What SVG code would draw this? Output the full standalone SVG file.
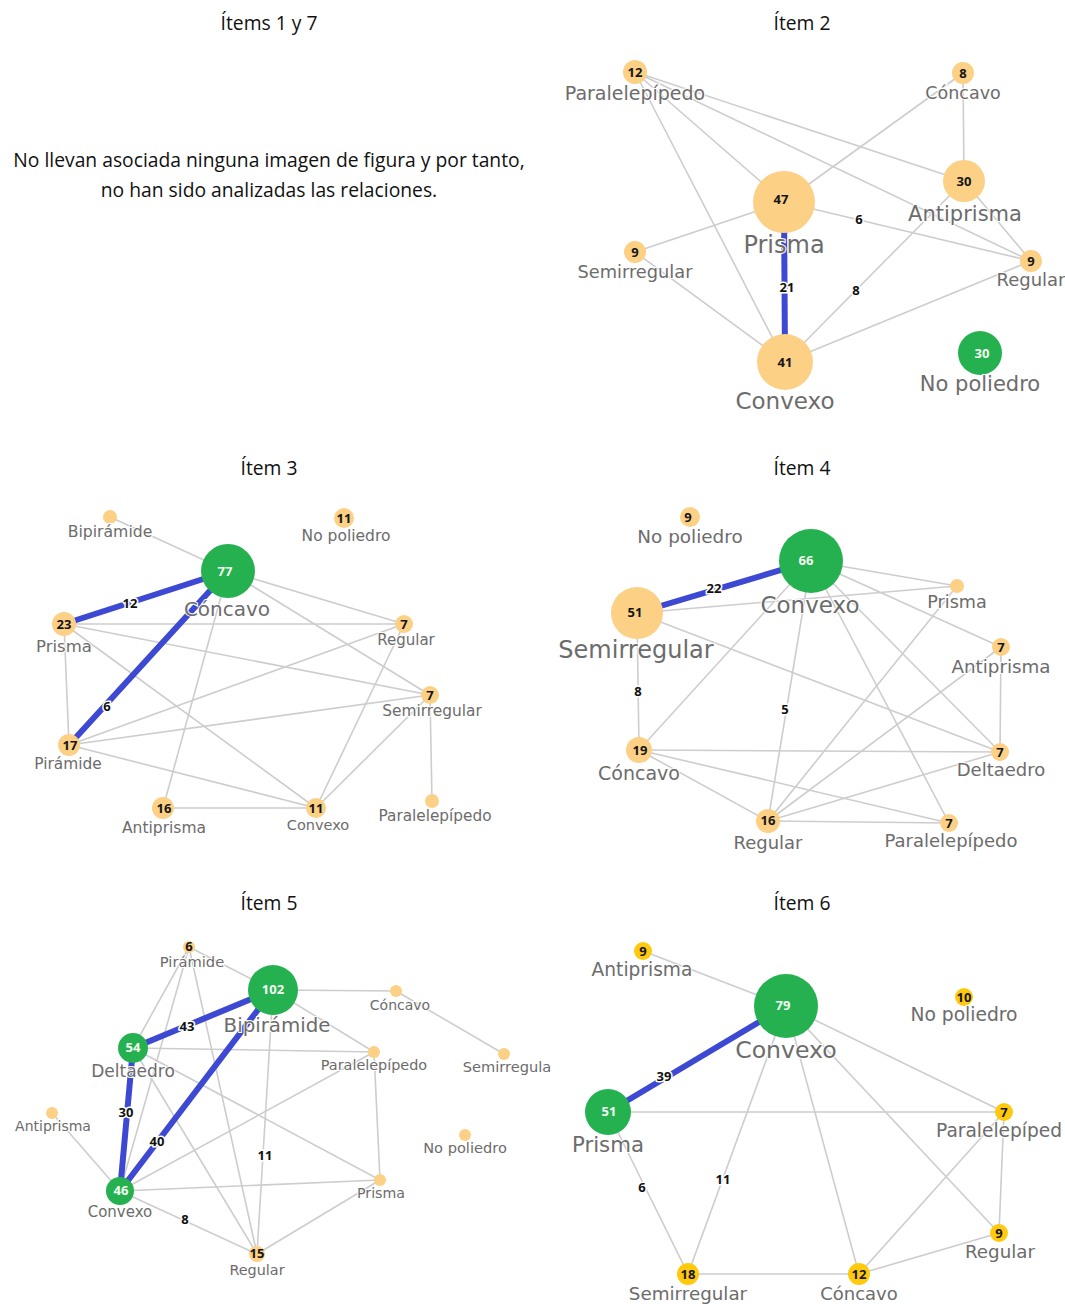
<svg xmlns="http://www.w3.org/2000/svg" width="1065" height="1304" viewBox="0 0 1065 1304">
<style>
.e{stroke:#cdcdcd;stroke-width:1.6;fill:none}
.b{stroke:#3d49d3;stroke-width:6;stroke-linecap:round;fill:none}
.o{fill:#fcd085}
.g{fill:#25b150}
.y{fill:#ffc90e}
.n{font-family:"Open Sans","DejaVu Sans",sans-serif;font-weight:700;font-size:13px;text-anchor:middle;fill:#151515}
.nw{fill:#f4fff4}
.l{font-family:"DejaVu Sans",sans-serif;fill:#6c6c6c;text-anchor:middle;stroke:#fff;stroke-width:2;paint-order:stroke}
.ls{text-anchor:start}
.w{font-family:"Open Sans","DejaVu Sans",sans-serif;font-weight:700;font-size:13px;fill:#111;text-anchor:middle;stroke:#fff;stroke-width:3;paint-order:stroke}
.t{font-family:"Open Sans","Liberation Sans",sans-serif;font-size:19.3px;fill:#111;text-anchor:middle}
</style>
<rect width="1065" height="1304" fill="#fff"/>
<g id="titles">
<text class="t" x="269" y="30">Ítems 1 y 7</text>
<text class="t" x="802" y="30">Ítem 2</text>
<text class="t" x="269" y="475">Ítem 3</text>
<text class="t" x="802" y="475">Ítem 4</text>
<text class="t" x="269" y="910">Ítem 5</text>
<text class="t" x="802" y="910">Ítem 6</text>
<text class="t" x="269" y="167">No llevan asociada ninguna imagen de figura y por tanto,</text>
<text class="t" x="269" y="197">no han sido analizadas las relaciones.</text>
</g>
<g id="connectors">
<!-- Item 2 -->
<line class="e" x1="635" y1="72" x2="784" y2="202"/>
<line class="e" x1="635" y1="72" x2="964" y2="181"/>
<line class="e" x1="635" y1="72" x2="1031" y2="261"/>
<line class="e" x1="635" y1="72" x2="785" y2="362"/>
<line class="e" x1="963" y1="73" x2="784" y2="202"/>
<line class="e" x1="963" y1="73" x2="964" y2="181"/>
<line class="e" x1="784" y1="202" x2="1031" y2="261"/>
<line class="e" x1="784" y1="202" x2="635" y2="252"/>
<line class="e" x1="964" y1="181" x2="785" y2="362"/>
<line class="e" x1="964" y1="181" x2="1031" y2="261"/>
<line class="e" x1="635" y1="252" x2="785" y2="362"/>
<line class="e" x1="785" y1="362" x2="1031" y2="261"/>
<line class="b" x1="784" y1="202" x2="785" y2="362"/>
<!-- Item 3 -->
<line class="e" x1="110" y1="517" x2="228" y2="571"/>
<line class="e" x1="228" y1="571" x2="404" y2="624"/>
<line class="e" x1="228" y1="571" x2="430" y2="695"/>
<line class="e" x1="228" y1="571" x2="163" y2="808"/>
<line class="e" x1="64" y1="624" x2="404" y2="624"/>
<line class="e" x1="64" y1="624" x2="430" y2="695"/>
<line class="e" x1="64" y1="624" x2="316" y2="808"/>
<line class="e" x1="64" y1="624" x2="69" y2="745"/>
<line class="e" x1="69" y1="745" x2="404" y2="624"/>
<line class="e" x1="69" y1="745" x2="430" y2="695"/>
<line class="e" x1="69" y1="745" x2="316" y2="808"/>
<line class="e" x1="163" y1="808" x2="316" y2="808"/>
<line class="e" x1="404" y1="624" x2="316" y2="808"/>
<line class="e" x1="430" y1="695" x2="316" y2="808"/>
<line class="e" x1="430" y1="695" x2="432" y2="801"/>
<line class="b" x1="228" y1="571" x2="64" y2="624" stroke-width="5"/>
<line class="b" x1="228" y1="571" x2="69" y2="745" stroke-width="5"/>
<!-- Item 4 -->
<line class="e" x1="637" y1="613" x2="957" y2="586"/>
<line class="e" x1="637" y1="613" x2="639" y2="750"/>
<line class="e" x1="637" y1="613" x2="1000" y2="752"/>
<line class="e" x1="811" y1="561" x2="957" y2="586"/>
<line class="e" x1="811" y1="561" x2="1001" y2="647"/>
<line class="e" x1="811" y1="561" x2="1000" y2="752"/>
<line class="e" x1="811" y1="561" x2="949" y2="823"/>
<line class="e" x1="811" y1="561" x2="768" y2="821"/>
<line class="e" x1="811" y1="561" x2="639" y2="750"/>
<line class="e" x1="957" y1="586" x2="768" y2="821"/>
<line class="e" x1="1001" y1="647" x2="1000" y2="752"/>
<line class="e" x1="1001" y1="647" x2="768" y2="821"/>
<line class="e" x1="639" y1="750" x2="1000" y2="752"/>
<line class="e" x1="639" y1="750" x2="768" y2="821"/>
<line class="e" x1="639" y1="750" x2="949" y2="823"/>
<line class="e" x1="768" y1="821" x2="1000" y2="752"/>
<line class="e" x1="768" y1="821" x2="949" y2="823"/>
<line class="b" x1="637" y1="613" x2="811" y2="561"/>
<!-- Item 5 -->
<line class="e" x1="273" y1="990" x2="189" y2="947"/>
<line class="e" x1="273" y1="990" x2="396" y2="991"/>
<line class="e" x1="273" y1="990" x2="374" y2="1052"/>
<line class="e" x1="273" y1="990" x2="257" y2="1254"/>
<line class="e" x1="396" y1="991" x2="504" y2="1054"/>
<line class="e" x1="133" y1="1048" x2="374" y2="1052"/>
<line class="e" x1="133" y1="1048" x2="380" y2="1180"/>
<line class="e" x1="133" y1="1048" x2="257" y2="1254"/>
<line class="e" x1="189" y1="947" x2="133" y2="1048"/>
<line class="e" x1="189" y1="947" x2="120" y2="1191"/>
<line class="e" x1="189" y1="947" x2="257" y2="1254"/>
<line class="e" x1="120" y1="1191" x2="374" y2="1052"/>
<line class="e" x1="120" y1="1191" x2="380" y2="1180"/>
<line class="e" x1="120" y1="1191" x2="257" y2="1254"/>
<line class="e" x1="120" y1="1191" x2="52" y2="1113"/>
<line class="e" x1="374" y1="1052" x2="380" y2="1180"/>
<line class="e" x1="380" y1="1180" x2="257" y2="1254"/>
<line class="b" x1="273" y1="990" x2="133" y2="1048" stroke-width="5"/>
<line class="b" x1="273" y1="990" x2="120" y2="1191" stroke-width="5"/>
<line class="b" x1="133" y1="1048" x2="120" y2="1191" stroke-width="5"/>
<!-- Item 6 -->
<line class="e" x1="786" y1="1006" x2="643" y2="951"/>
<line class="e" x1="786" y1="1006" x2="1004" y2="1112"/>
<line class="e" x1="786" y1="1006" x2="688" y2="1274"/>
<line class="e" x1="786" y1="1006" x2="859" y2="1274"/>
<line class="e" x1="786" y1="1006" x2="999" y2="1233"/>
<line class="e" x1="608" y1="1112" x2="1004" y2="1112"/>
<line class="e" x1="608" y1="1112" x2="688" y2="1274"/>
<line class="e" x1="688" y1="1274" x2="859" y2="1274"/>
<line class="e" x1="859" y1="1274" x2="1004" y2="1112"/>
<line class="e" x1="859" y1="1274" x2="999" y2="1233"/>
<line class="e" x1="1004" y1="1112" x2="999" y2="1233"/>
<line class="b" x1="786" y1="1006" x2="608" y2="1112"/>
<!-- weights -->
<text class="w" x="859" y="224">6</text>
<text class="w" x="787" y="292">21</text>
<text class="w" x="856" y="295">8</text>
<text class="w" x="130" y="608">12</text>
<text class="w" x="107" y="711">6</text>
<text class="w" x="714" y="593">22</text>
<text class="w" x="638" y="696">8</text>
<text class="w" x="785" y="714">5</text>
<text class="w" x="187" y="1031" font-size="12">43</text>
<text class="w" x="126" y="1117" font-size="12">30</text>
<text class="w" x="157" y="1146" font-size="12">40</text>
<text class="w" x="265" y="1160" font-size="12">11</text>
<text class="w" x="185" y="1224" font-size="12">8</text>
<text class="w" x="664" y="1081">39</text>
<text class="w" x="642" y="1192">6</text>
<text class="w" x="723" y="1184">11</text>
</g>
<!-- Item 2 nodes -->
<g id="i2-paralelepipedo"><circle class="o" cx="635" cy="72" r="12"/><text class="n" x="635" y="77">12</text><text class="l" x="635" y="100" font-size="19">Paralelepípedo</text></g>
<g id="i2-concavo"><circle class="o" cx="963" cy="73" r="11"/><text class="n" x="963" y="78">8</text><text class="l" x="963" y="99" font-size="17.5">Cóncavo</text></g>
<g id="i2-antiprisma"><circle class="o" cx="964" cy="181" r="21"/><text class="n" x="964" y="186" font-size="14">30</text><text class="l" x="965" y="221" font-size="21">Antiprisma</text></g>
<g id="i2-prisma"><circle class="o" cx="784" cy="202" r="31"/><text class="n" x="781" y="204" font-size="14">47</text><text class="l" x="784" y="253" font-size="24">Prisma</text></g>
<g id="i2-semirregular"><circle class="o" cx="635" cy="252" r="11"/><text class="n" x="635" y="257">9</text><text class="l" x="635" y="278" font-size="17.8">Semirregular</text></g>
<g id="i2-regular"><circle class="o" cx="1031" cy="261" r="11"/><text class="n" x="1031" y="266">9</text><text class="l" x="1031" y="286" font-size="18">Regular</text></g>
<g id="i2-convexo"><circle class="o" cx="785" cy="362" r="28"/><text class="n" x="785" y="367" font-size="14">41</text><text class="l" x="785" y="409" font-size="23">Convexo</text></g>
<g id="i2-nopoliedro"><circle class="g" cx="980" cy="353" r="22"/><text class="n nw" x="982" y="358" font-size="14">30</text><text class="l" x="980" y="391" font-size="21">No poliedro</text></g>
<!-- Item 3 nodes -->
<g id="i3-bipiramide"><circle class="o" cx="110" cy="517" r="7"/><text class="l" x="110" y="537" font-size="15.7">Bipirámide</text></g>
<g id="i3-nopoliedro"><circle class="o" cx="344" cy="518" r="10"/><text class="n" x="344" y="523">11</text><text class="l" x="346" y="541" font-size="15.5">No poliedro</text></g>
<g id="i3-concavo"><circle class="g" cx="228" cy="571" r="27"/><text class="n nw" x="225" y="576">77</text><text class="l" x="227" y="616" font-size="20">Cóncavo</text></g>
<g id="i3-prisma"><circle class="o" cx="64" cy="624" r="12"/><text class="n" x="64" y="629">23</text><text class="l" x="64" y="652" font-size="16.5">Prisma</text></g>
<g id="i3-regular"><circle class="o" cx="404" cy="624" r="9"/><text class="n" x="404" y="629">7</text><text class="l" x="406" y="645" font-size="15">Regular</text></g>
<g id="i3-semirregular"><circle class="o" cx="430" cy="695" r="9"/><text class="n" x="430" y="700">7</text><text class="l" x="432" y="716" font-size="15.4">Semirregular</text></g>
<g id="i3-piramide"><circle class="o" cx="69" cy="745" r="11"/><text class="n" x="70" y="750">17</text><text class="l" x="68" y="769" font-size="15.4">Pirámide</text></g>
<g id="i3-antiprisma"><circle class="o" cx="163" cy="808" r="11"/><text class="n" x="164" y="813">16</text><text class="l" x="164" y="833" font-size="15.5">Antiprisma</text></g>
<g id="i3-convexo"><circle class="o" cx="316" cy="808" r="10"/><text class="n" x="316" y="813">11</text><text class="l" x="318" y="830" font-size="14.5">Convexo</text></g>
<g id="i3-paralelepipedo"><circle class="o" cx="432" cy="801" r="7"/><text class="l" x="435" y="821" font-size="15.3">Paralelepípedo</text></g>
<!-- Item 4 nodes -->
<g id="i4-nopoliedro"><circle class="o" cx="690" cy="517" r="10"/><text class="n" x="688" y="522">9</text><text class="l" x="690" y="543" font-size="18.4">No poliedro</text></g>
<g id="i4-convexo"><circle class="g" cx="811" cy="561" r="32"/><text class="n nw" x="806" y="565">66</text><text class="l" x="810" y="613" font-size="23">Convexo</text></g>
<g id="i4-semirregular"><circle class="o" cx="637" cy="613" r="26"/><text class="n" x="635" y="617" font-size="14">51</text><text class="l" x="636" y="658" font-size="24">Semirregular</text></g>
<g id="i4-prisma"><circle class="o" cx="957" cy="586" r="7"/><text class="l" x="957" y="608" font-size="17.6">Prisma</text></g>
<g id="i4-antiprisma"><circle class="o" cx="1001" cy="647" r="9"/><text class="n" x="1001" y="652">7</text><text class="l" x="1001" y="673" font-size="18.3">Antiprisma</text></g>
<g id="i4-concavo"><circle class="o" cx="639" cy="750" r="13"/><text class="n" x="640" y="755">19</text><text class="l" x="639" y="780" font-size="19">Cóncavo</text></g>
<g id="i4-deltaedro"><circle class="o" cx="1000" cy="752" r="9"/><text class="n" x="1000" y="757">7</text><text class="l" x="1001" y="776" font-size="18">Deltaedro</text></g>
<g id="i4-regular"><circle class="o" cx="768" cy="821" r="12"/><text class="n" x="768" y="825">16</text><text class="l" x="768" y="849" font-size="18">Regular</text></g>
<g id="i4-paralelepipedo"><circle class="o" cx="949" cy="823" r="9"/><text class="n" x="949" y="828">7</text><text class="l" x="951" y="847" font-size="18">Paralelepípedo</text></g>
<!-- Item 5 nodes -->
<g id="i5-piramide"><circle class="o" cx="189" cy="947" r="6"/><text class="n" x="189" y="951" font-size="10">6</text><text class="l" x="192" y="967" font-size="14.7">Pirámide</text></g>
<g id="i5-bipiramide"><circle class="g" cx="273" cy="990" r="25"/><text class="n nw" x="273" y="994" font-size="12">102</text><text class="l" x="277" y="1032" font-size="19.8">Bipirámide</text></g>
<g id="i5-concavo"><circle class="o" cx="396" cy="991" r="6"/><text class="l" x="400" y="1010" font-size="14">Cóncavo</text></g>
<g id="i5-deltaedro"><circle class="g" cx="133" cy="1048" r="15"/><text class="n nw" x="133" y="1052" font-size="12">54</text><text class="l" x="133" y="1077" font-size="17">Deltaedro</text></g>
<g id="i5-paralelepipedo"><circle class="o" cx="374" cy="1052" r="6"/><text class="l" x="374" y="1070" font-size="14.4">Paralelepípedo</text></g>
<g id="i5-semirregular"><circle class="o" cx="504" cy="1054" r="6"/><text class="l" x="507" y="1072" font-size="14.6">Semirregula</text></g>
<g id="i5-antiprisma"><circle class="o" cx="52" cy="1113" r="6"/><text class="l" x="53" y="1131" font-size="14">Antiprisma</text></g>
<g id="i5-nopoliedro"><circle class="o" cx="465" cy="1135" r="6"/><text class="l" x="465" y="1153" font-size="14.6">No poliedro</text></g>
<g id="i5-convexo"><circle class="g" cx="120" cy="1191" r="14"/><text class="n nw" x="121" y="1195" font-size="12">46</text><text class="l" x="120" y="1217" font-size="15">Convexo</text></g>
<g id="i5-prisma"><circle class="o" cx="380" cy="1180" r="6"/><text class="l" x="381" y="1198" font-size="14.2">Prisma</text></g>
<g id="i5-regular"><circle class="o" cx="257" cy="1254" r="8"/><text class="n" x="257" y="1258" font-size="12">15</text><text class="l" x="257" y="1275" font-size="14.4">Regular</text></g>
<!-- Item 6 nodes -->
<g id="i6-antiprisma"><circle class="y" cx="643" cy="951" r="9"/><text class="n" x="643" y="956">9</text><text class="l" x="642" y="976" font-size="18.6">Antiprisma</text></g>
<g id="i6-convexo"><circle class="g" cx="786" cy="1006" r="32"/><text class="n nw" x="783" y="1010">79</text><text class="l" x="786" y="1058" font-size="23.6">Convexo</text></g>
<g id="i6-nopoliedro"><circle class="y" cx="964" cy="997" r="9"/><text class="n" x="964" y="1002">10</text><text class="l" x="964" y="1021" font-size="18.7">No poliedro</text></g>
<g id="i6-prisma"><circle class="g" cx="608" cy="1112" r="23"/><text class="n nw" x="609" y="1116">51</text><text class="l" x="608" y="1152" font-size="21.3">Prisma</text></g>
<g id="i6-paralelepipedo"><circle class="y" cx="1004" cy="1112" r="9"/><text class="n" x="1004" y="1117">7</text><text class="l ls" x="936" y="1137" font-size="18.6">Paralelepíped</text></g>
<g id="i6-regular"><circle class="y" cx="999" cy="1233" r="9"/><text class="n" x="999" y="1238">9</text><text class="l" x="1000" y="1258" font-size="18.3">Regular</text></g>
<g id="i6-semirregular"><circle class="y" cx="688" cy="1274" r="11"/><text class="n" x="688" y="1279">18</text><text class="l" x="688" y="1300" font-size="18.3">Semirregular</text></g>
<g id="i6-concavo"><circle class="y" cx="859" cy="1274" r="11"/><text class="n" x="859" y="1279">12</text><text class="l" x="859" y="1300" font-size="18">Cóncavo</text></g>
</svg>
